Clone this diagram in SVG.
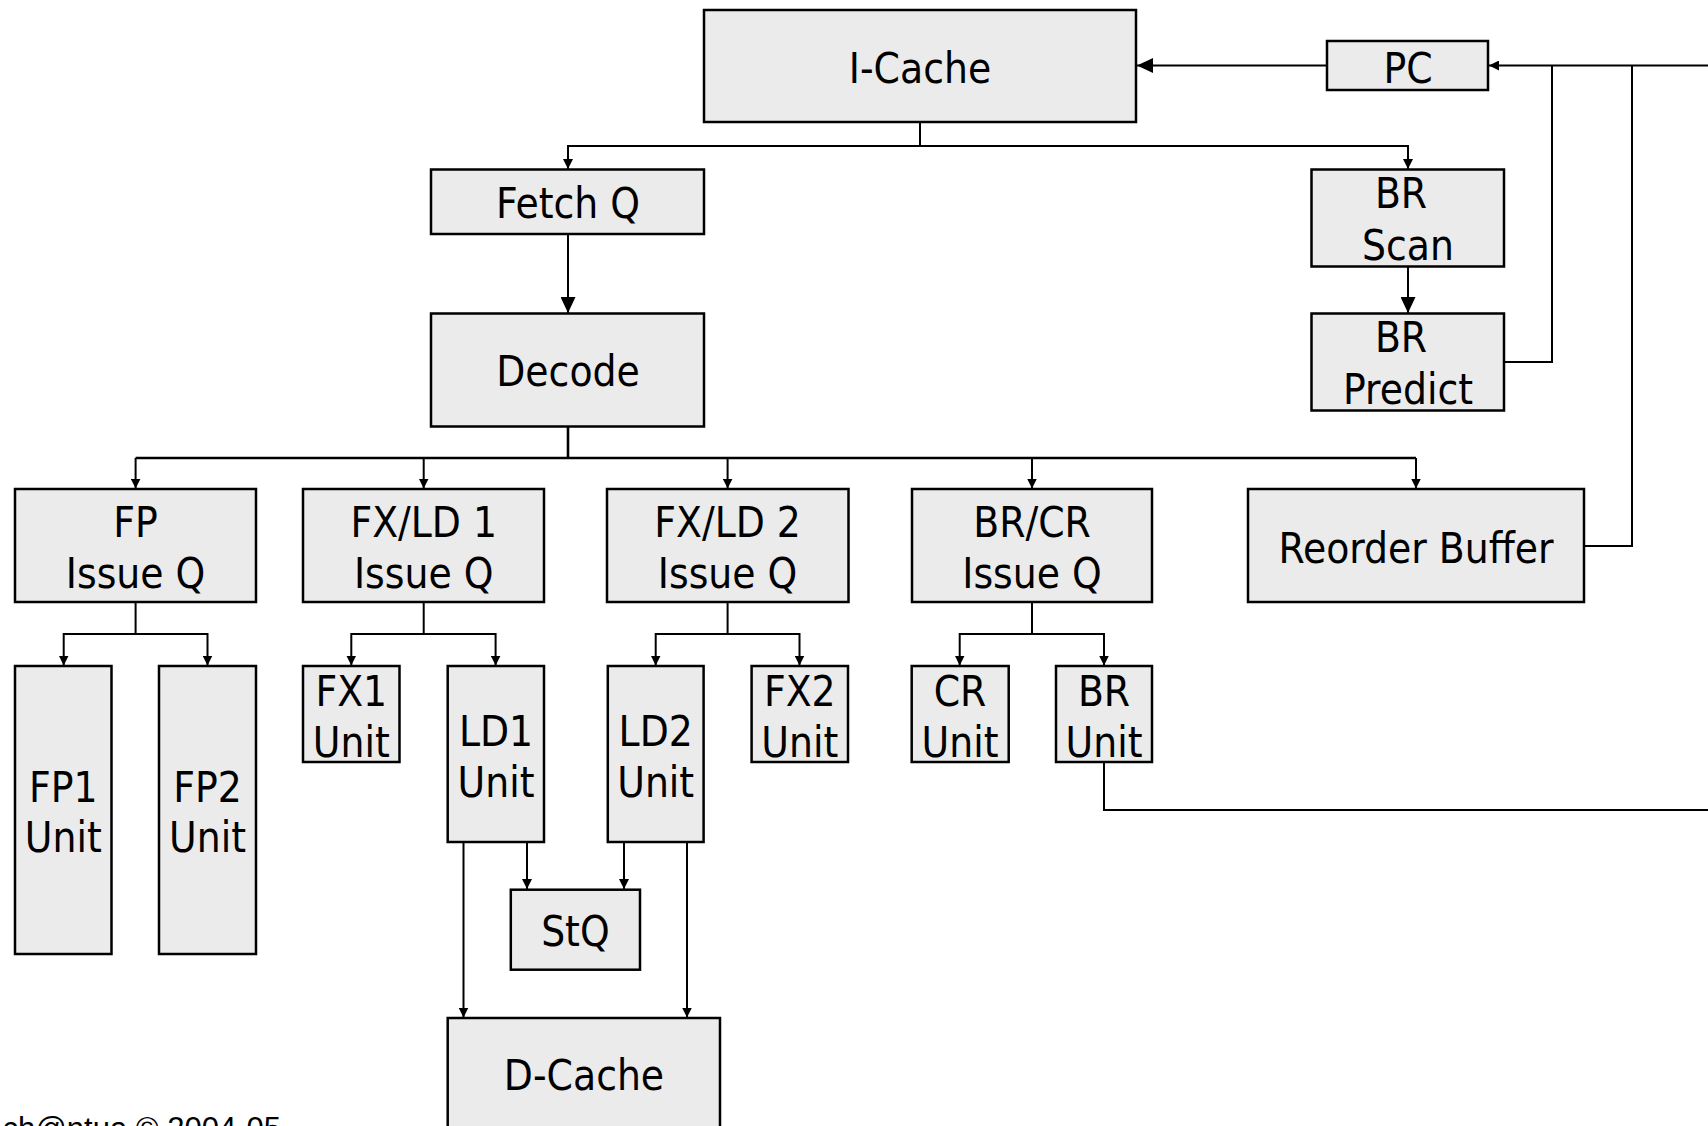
<svg xmlns="http://www.w3.org/2000/svg" width="1708" height="1126" viewBox="0 0 1708 1126">
<style>
.box{fill:#ebebeb;stroke:#000;stroke-width:2.5}
.t{font-family:"DejaVu Sans Condensed","DejaVu Sans",sans-serif;font-stretch:condensed;font-size:42px;text-anchor:middle;fill:#000}
.c{fill:none;stroke:#000;stroke-width:2}
.sa{marker-end:url(#sa)}
.la{marker-end:url(#la)}
.foot{font-family:"Liberation Sans",Arial,sans-serif;font-size:31px;fill:#000;text-anchor:end}
</style>
<defs>
<marker id="sa" markerUnits="userSpaceOnUse" markerWidth="10" markerHeight="10" refX="10" refY="5" orient="auto"><path d="M0,0 L10,5 L0,10 z" fill="#000"/></marker>
<marker id="la" markerUnits="userSpaceOnUse" markerWidth="16" markerHeight="15" refX="16" refY="7.5" orient="auto"><path d="M0,0 L16,7.5 L0,15 z" fill="#000"/></marker>
</defs>
<rect width="1708" height="1126" fill="#fff"/>
<g id="connectors">
<path class="c sa" d="M920,122 V146 H568 V169"/>
<path class="c sa" d="M920,146 H1408 V169"/>
<path class="c la" d="M568,234 V313"/>
<path class="c la" d="M1408,266 V313"/>
<path class="c la" d="M1327,65.5 H1137"/>
<path class="c sa" d="M1708,65.5 H1489"/>
<path class="c" d="M1504,362 H1552 V65.5"/>
<path class="c" d="M1584,546 H1632 V65.5"/>
<path class="c" d="M1104,762 V810 H1708"/>
<path class="c" style="stroke-width:2.6" d="M568,427 V458 M135.6,458 H1416"/>
<path class="c sa" d="M135.6,458 V488.5"/>
<path class="c sa" d="M423.7,458 V488.5"/>
<path class="c sa" d="M727.6,458 V488.5"/>
<path class="c sa" d="M1032,458 V488.5"/>
<path class="c sa" d="M1416,458 V488.5"/>
<path class="c sa" d="M135.6,602 V634 H63.7 V665.5"/>
<path class="c sa" d="M135.6,634 H207.5 V665.5"/>
<path class="c sa" d="M423.7,602 V634 H351.3 V665.5"/>
<path class="c sa" d="M423.7,634 H495.6 V665.5"/>
<path class="c sa" d="M727.6,602 V634 H655.7 V665.5"/>
<path class="c sa" d="M727.6,634 H799.5 V665.5"/>
<path class="c sa" d="M1032,602 V634 H959.7 V665.5"/>
<path class="c sa" d="M1032,634 H1104 V665.5"/>
<path class="c sa" d="M527,842 V889"/>
<path class="c sa" d="M624,842 V889"/>
<path class="c sa" d="M463.5,842 V1017.5"/>
<path class="c sa" d="M687,842 V1017.5"/>
</g>
<g id="icache"><rect class="box" x="704" y="10" width="432" height="112"/><text class="t" x="920" y="83">I-Cache</text></g>
<g id="pc"><rect class="box" x="1327" y="41" width="161" height="49"/><text class="t" x="1408" y="83">PC</text></g>
<g id="fetchq"><rect class="box" x="431" y="169.5" width="273" height="64.5"/><text class="t" x="568" y="218">Fetch Q</text></g>
<g id="decode"><rect class="box" x="431" y="313.5" width="273" height="113"/><text class="t" x="568" y="386">Decode</text></g>
<g id="brscan"><rect class="box" x="1311.5" y="169.5" width="192.5" height="97"/><text class="t" x="1401" y="208">BR</text><text class="t" x="1408" y="260">Scan</text></g>
<g id="brpredict"><rect class="box" x="1311.5" y="313.5" width="192.5" height="97"/><text class="t" x="1401" y="352">BR</text><text class="t" x="1408" y="404">Predict</text></g>
<g id="fpissue"><rect class="box" x="15" y="489" width="241" height="113"/><text class="t" x="135.6" y="537">FP</text><text class="t" x="135.6" y="588">Issue Q</text></g>
<g id="fxld1issue"><rect class="box" x="303" y="489" width="241" height="113"/><text class="t" x="423.7" y="537">FX/LD 1</text><text class="t" x="423.7" y="588">Issue Q</text></g>
<g id="fxld2issue"><rect class="box" x="607" y="489" width="241.5" height="113"/><text class="t" x="727.6" y="537">FX/LD 2</text><text class="t" x="727.6" y="588">Issue Q</text></g>
<g id="brcrissue"><rect class="box" x="912" y="489" width="240" height="113"/><text class="t" x="1032" y="537">BR/CR</text><text class="t" x="1032" y="588">Issue Q</text></g>
<g id="rob"><rect class="box" x="1248" y="489" width="336" height="113"/><text class="t" x="1416" y="563">Reorder Buffer</text></g>
<g id="fp1"><rect class="box" x="15" y="666" width="96.5" height="288"/><text class="t" x="63.3" y="802">FP1</text><text class="t" x="63.3" y="852">Unit</text></g>
<g id="fp2"><rect class="box" x="159" y="666" width="97" height="288"/><text class="t" x="207.5" y="802">FP2</text><text class="t" x="207.5" y="852">Unit</text></g>
<g id="fx1"><rect class="box" x="303" y="666" width="96.5" height="96"/><text class="t" x="351.3" y="706">FX1</text><text class="t" x="351.3" y="757">Unit</text></g>
<g id="ld1"><rect class="box" x="447.7" y="666" width="96.3" height="176"/><text class="t" x="496" y="746">LD1</text><text class="t" x="496" y="797">Unit</text></g>
<g id="ld2"><rect class="box" x="607.8" y="666" width="95.8" height="176"/><text class="t" x="655.7" y="746">LD2</text><text class="t" x="655.7" y="797">Unit</text></g>
<g id="fx2"><rect class="box" x="751.6" y="666" width="96.4" height="96"/><text class="t" x="799.8" y="706">FX2</text><text class="t" x="799.8" y="757">Unit</text></g>
<g id="cr"><rect class="box" x="911.7" y="666" width="97" height="96"/><text class="t" x="960" y="706">CR</text><text class="t" x="960" y="757">Unit</text></g>
<g id="brunit"><rect class="box" x="1056" y="666" width="96" height="96"/><text class="t" x="1104" y="706">BR</text><text class="t" x="1104" y="757">Unit</text></g>
<g id="stq"><rect class="box" x="510.8" y="889.7" width="129.2" height="80"/><text class="t" x="575.4" y="946">StQ</text></g>
<g id="dcache"><rect class="box" x="447.7" y="1018" width="272.3" height="150"/><text class="t" x="584" y="1090">D-Cache</text></g>
<text class="foot" x="281" y="1139">ch@ntua © 2004-05</text>
</svg>
